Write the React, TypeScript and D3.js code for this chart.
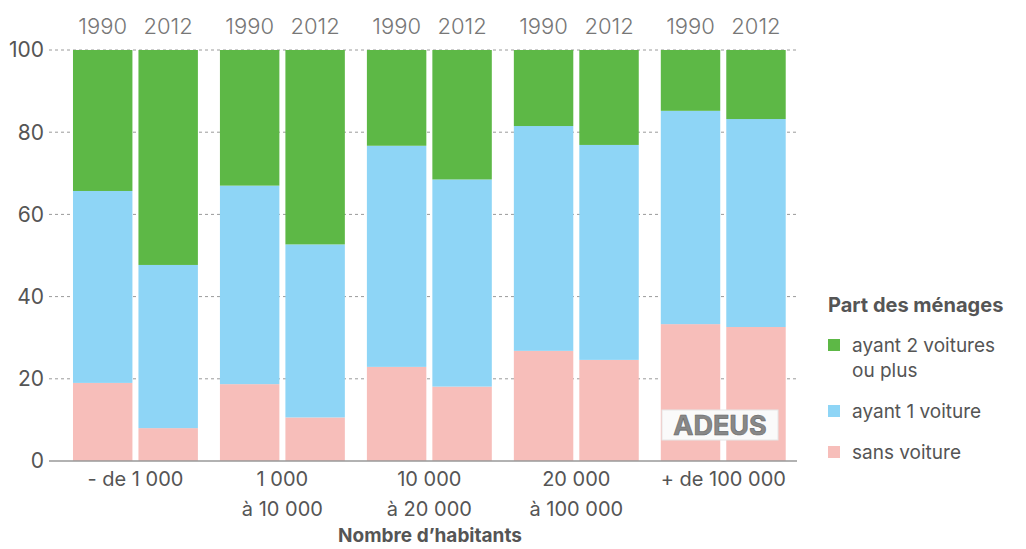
import * as d3 from 'd3'

const groups = ['- de 1 000', '1 000\nà 10 000', '10 000\nà 20 000', '20 000\nà 100 000', '+ de 100 000']
const years = ['1990', '2012']
const keys = ['sans', 'un', 'deux'] as const

// share of households, per group then year
const sansVoiture = [[19, 8], [18.7, 10.6], [22.9, 18.1], [26.8, 24.6], [33.3, 32.6]]
const unVoiture = [[46.7, 39.7], [48.3, 42.1], [53.8, 50.4], [54.7, 52.3], [51.9, 50.6]]
const deuxVoitures = [[34.3, 52.3], [33, 47.3], [23.3, 31.5], [18.5, 23.1], [14.8, 16.8]]

const yTicks = [0, 20, 40, 60, 80, 100]

const legendItems = [
  { key: 'deux', lines: ['ayant 2 voitures', 'ou plus'] },
  { key: 'un', lines: ['ayant 1 voiture'] },
  { key: 'sans', lines: ['sans voiture'] },
]

const colors: Record<string, string> = {
  deux: '#5db846',
  un: '#8ed5f6',
  sans: '#f7beba',
}

const W = 1026
const H = 549
const left = 49
const right = 797
const top = 50
const bottom = 461
const font = 'Inter, "Open Sans", Roboto, sans-serif'

export default function App() {
  const rows = groups.flatMap((g, gi) =>
    years.map((yr, yi) => ({
      group: g,
      year: yr,
      sans: sansVoiture[gi][yi],
      un: unVoiture[gi][yi],
      deux: deuxVoitures[gi][yi],
    })),
  )

  const x0 = d3.scaleBand<string>().domain(groups).range([left, right]).paddingInner(0.15).paddingOuter(0.12).align(0.68)
  const x1 = d3.scaleBand<string>().domain(years).range([0, x0.bandwidth()]).paddingInner(0.092)
  const y = d3.scaleLinear().domain([0, 100]).range([bottom, top])

  const stacked = d3.stack<any>().keys(keys as unknown as string[])(rows)

  return (
    <svg width={W} height={H} style={{ position: 'absolute', left: 0, top: 0, background: '#fff' }} fontFamily={font}>
      {yTicks.filter((t) => t > 0).map((t) => (
        <line key={t} x1={left} x2={right} y1={y(t)} y2={y(t)} stroke="#9a9a9a" strokeWidth={1} strokeDasharray="3 3" />
      ))}
      {yTicks.map((t) => (
        <text key={t} x={44} y={y(t)} dy="0.35em" textAnchor="end" fontSize={21} fill="#555">
          {t}
        </text>
      ))}

      {stacked.map((layer) => (
        <g key={layer.key} fill={colors[layer.key]}>
          {layer.map((d, i) => (
            <rect
              key={i}
              x={(x0(d.data.group) ?? 0) + (x1(d.data.year) ?? 0)}
              y={y(d[1])}
              width={x1.bandwidth()}
              height={y(d[0]) - y(d[1])}
            />
          ))}
        </g>
      ))}

      <line x1={left} x2={right} y1={bottom} y2={bottom} stroke="#999" strokeWidth={1.5} />

      {groups.map((g) =>
        years.map((yr) => (
          <text
            key={g + yr}
            x={(x0(g) ?? 0) + (x1(yr) ?? 0) + x1.bandwidth() / 2}
            y={34}
            textAnchor="middle"
            fontSize={22}
            fontWeight={300}
            fill="#777"
          >
            {yr}
          </text>
        )),
      )}

      {groups.map((g) => (
        <text key={g} x={(x0(g) ?? 0) + x0.bandwidth() / 2} y={486} textAnchor="middle" fontSize={20} fill="#555">
          {g.split('\n').map((line, i) => (
            <tspan key={i} x={(x0(g) ?? 0) + x0.bandwidth() / 2} dy={i === 0 ? 0 : 30}>
              {line}
            </tspan>
          ))}
        </text>
      ))}

      <text x={430} y={542} textAnchor="middle" fontSize={19} fontWeight={700} fill="#555">
        Nombre d’habitants
      </text>

      <g transform="translate(662,410)">
        <rect width={116} height={30} fill="#fafafa" stroke="#e6e6e6" />
        <text x={58} y={25} textAnchor="middle" fontSize={27} fontWeight={700} fill="#888" stroke="#666" strokeWidth={0.6}>
          ADEUS
        </text>
      </g>

      <text x={828} y={312} fontSize={20} fontWeight={700} fill="#555">
        Part des ménages
      </text>
      {legendItems.map((item, i) => {
        const baseY = [352, 418, 459][i]
        return (
          <g key={item.key}>
            <rect x={828} y={baseY - 13} width={12} height={12} fill={colors[item.key]} />
            {item.lines.map((l, li) => (
              <text key={li} x={852} y={baseY + li * 25} fontSize={19} fill="#555">
                {l}
              </text>
            ))}
          </g>
        )
      })}
    </svg>
  )
}
